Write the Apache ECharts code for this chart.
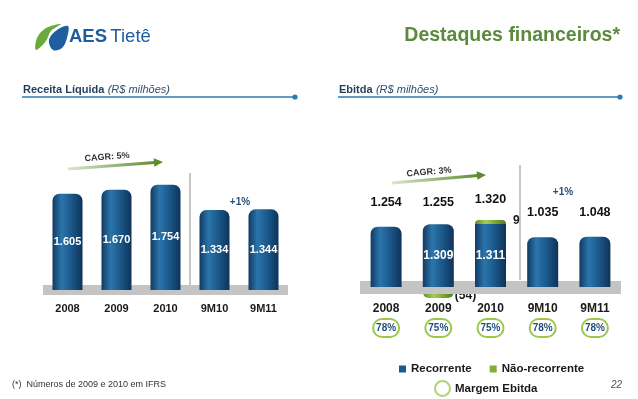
<!DOCTYPE html>
<html>
<head>
<meta charset="utf-8">
<script src="https://cdn.jsdelivr.net/npm/echarts@6/dist/echarts.min.js"></script>
<style>
  html, body { margin: 0; padding: 0; background: #fff; }
  #chart { width: 638px; height: 399px; }
</style>
</head>
<body>
<div id="chart"></div>
<script>
// Receita Líquida (R$ milhões)
const receitaCats = ['2008', '2009', '2010', '9M10', '9M11'];
const receitaValues = [1605, 1670, 1754, 1334, 1344];

// Ebitda (R$ milhões)
const ebitdaCats = ['2008', '2009', '2010', '9M10', '9M11'];
const ebitdaRecorrente = [1254, 1309, 1311, 1035, 1048];
const ebitdaNaoRecorrente = [null, -54, 9, null, null];
const ebitdaTotal = [1254, 1255, 1320, 1035, 1048];
const margemEbitda = ['78%', '75%', '75%', '78%', '78%'];

const FONT = "'Liberation Sans', Arial, sans-serif";

// formato pt-BR: 1605 -> 1.605
function fmt(v) {
  v = Math.abs(v);
  if (v < 1000) return String(v);
  return Math.floor(v / 1000) + '.' + String(v % 1000).padStart(3, '0');
}

const blueCyl = {
  type: 'linear', x: 0, y: 0, x2: 1, y2: 0,
  colorStops: [
    { offset: 0, color: '#113a62' },
    { offset: 0.3, color: '#2b75ab' },
    { offset: 0.6, color: '#1c5b8e' },
    { offset: 1, color: '#0e3358' }
  ]
};
const greenCyl = {
  type: 'linear', x: 0, y: 0, x2: 1, y2: 0,
  colorStops: [
    { offset: 0, color: '#5d8a25' },
    { offset: 0.35, color: '#a8cc55' },
    { offset: 1, color: '#4f7a1e' }
  ]
};

const naoRecPos = ebitdaNaoRecorrente.map(v => (v !== null && v > 0 ? v : null));
const naoRecNeg = ebitdaNaoRecorrente.map(v => (v !== null && v < 0 ? v : null));

const chart = echarts.init(document.getElementById('chart'));

const option = {
  animation: false,
  textStyle: { fontFamily: FONT },
  grid: [
    { left: 43, right: 350, top: 140, bottom: 109 },
    { left: 360, right: 17, top: 167, bottom: 112 }
  ],
  xAxis: [
    {
      type: 'category', gridIndex: 0, data: receitaCats, z: 1,
      axisLine: { lineStyle: { color: '#c4c4c4', width: 10, cap: 'butt' } },
      axisTick: { show: false },
      axisLabel: { color: '#1a1a1a', fontWeight: 'bold', fontSize: 11, margin: 13 }
    },
    {
      type: 'category', gridIndex: 1, data: ebitdaCats, z: 1,
      axisLine: { lineStyle: { color: '#c4c4c4', width: 13, cap: 'butt' } },
      axisTick: { show: false },
      axisLabel: { color: '#1a1a1a', fontWeight: 'bold', fontSize: 12, margin: 16 }
    },
    {
      type: 'category', gridIndex: 1, data: ebitdaCats, position: 'bottom',
      axisLine: { show: false, onZero: false },
      axisTick: { show: false },
      axisLabel: {
        margin: 32, interval: 0,
        formatter: (v, i) => '{m|' + margemEbitda[i] + '}',
        rich: {
          m: {
            color: '#1f4e7c', fontSize: 10, fontWeight: 'bold', fontFamily: FONT,
            borderColor: '#9cc84a', borderWidth: 2, borderRadius: 11,
            width: 26, height: 18, lineHeight: 18, align: 'center'
          }
        }
      }
    }
  ],
  yAxis: [
    { type: 'value', gridIndex: 0, min: 0, max: 2500, show: false },
    { type: 'value', gridIndex: 1, min: 0, max: 2500, show: false }
  ],
  legend: [
    {
      left: 394, top: 358, itemWidth: 7, itemHeight: 7, itemGap: 18,
      selectedMode: false,
      textStyle: { fontSize: 11.5, fontWeight: 'bold', color: '#1a1a1a', fontFamily: FONT },
      data: [
        { name: 'Recorrente', icon: 'rect', itemStyle: { color: '#1d5a8c' } },
        { name: 'Não-recorrente', icon: 'rect', itemStyle: { color: '#7fb13a' } }
      ]
    },
    {
      left: 429, top: 375, itemWidth: 15, itemHeight: 15,
      selectedMode: false,
      textStyle: { fontSize: 11.5, fontWeight: 'bold', color: '#1a1a1a', fontFamily: FONT },
      data: [
        { name: 'Margem Ebitda', icon: 'circle',
          itemStyle: { color: '#fff', borderColor: '#9cc84a', borderWidth: 2 } }
      ]
    }
  ],
  series: [
    {
      name: 'Receita Líquida', type: 'bar', xAxisIndex: 0, yAxisIndex: 0,
      data: receitaValues, barWidth: 30, z: 2,
      itemStyle: { color: blueCyl, borderRadius: [7, 7, 0, 0] },
      label: {
        show: true, position: 'inside', color: '#fff', fontWeight: 'bold',
        fontSize: 11, formatter: p => fmt(p.value)
      }
    },
    {
      name: 'Recorrente', type: 'bar', xAxisIndex: 1, yAxisIndex: 1, stack: 'ebitda',
      barWidth: 31, z: 2,
      itemStyle: { color: blueCyl, borderRadius: [7, 7, 0, 0] },
      data: ebitdaRecorrente.map((v, i) => ({
        value: v,
        label: { show: ebitdaNaoRecorrente[i] !== null },
        itemStyle: naoRecPos[i] !== null ? { borderRadius: 0 } : {}
      })),
      label: {
        position: 'inside', color: '#fff', fontWeight: 'bold', fontSize: 12,
        formatter: p => fmt(p.value)
      }
    },
    {
      name: 'Não-recorrente', type: 'bar', xAxisIndex: 1, yAxisIndex: 1, stack: 'ebitda',
      barWidth: 31, barMinHeight: 4, z: 2, data: naoRecPos,
      itemStyle: { color: greenCyl, borderRadius: [6, 6, 0, 0] },
      label: {
        show: true, position: 'right', distance: 7, offset: [0, -1],
        color: '#1a1a1a', fontWeight: 'bold', fontSize: 12,
        formatter: p => fmt(p.value)
      }
    },
    {
      name: 'Não-recorrente', type: 'bar', xAxisIndex: 1, yAxisIndex: 1, stack: 'ebitda',
      barWidth: 31, barMinHeight: 11, z: 0, clip: false, data: naoRecNeg,
      itemStyle: { color: greenCyl, borderRadius: [0, 0, 6, 6] },
      label: {
        show: true, position: 'right', distance: 1, offset: [0, 3],
        color: '#1a1a1a', fontWeight: 'bold', fontSize: 12,
        formatter: p => '(' + fmt(p.value) + ')'
      }
    },
    {
      name: 'Total', type: 'scatter', xAxisIndex: 1, yAxisIndex: 1,
      data: ebitdaTotal, symbolSize: 0, silent: true, z: 5,
      itemStyle: { color: '#1a1a1a', opacity: 1 },
      label: {
        show: true, position: 'top', distance: 18,
        color: '#111', fontWeight: 'bold', fontSize: 12.5,
        formatter: p => fmt(p.value)
      }
    },
    {
      name: 'Margem Ebitda', type: 'scatter', xAxisIndex: 1, yAxisIndex: 1, data: []
    }
  ],
  graphic: [
    // logo
    { type: 'polygon', shape: { points: [[36, 50], [37, 38], [46, 28], [61, 24], [51, 31], [46, 41]], smooth: 0.35 },
      style: { fill: '#6aaa3a' } },
    { type: 'polygon', shape: { points: [[68, 26], [57, 30], [49, 40], [53, 50], [62, 48], [67, 38]], smooth: 0.35 },
      style: { fill: '#1f5fa0' } },
    { type: 'text', x: 69, y: 37,
      style: { text: '{a|AES} {b|Tietê}', verticalAlign: 'middle',
        rich: {
          a: { fontSize: 18.5, fontWeight: 'bold', fill: '#1f5c9e', fontFamily: FONT },
          b: { fontSize: 18.5, fill: '#1f5c9e', fontFamily: FONT }
        } } },
    // titulo
    { type: 'text', x: 620, y: 36,
      style: { text: 'Destaques financeiros*', align: 'right', verticalAlign: 'middle',
        font: 'bold 19.5px ' + FONT, fill: '#5b8a3c' } },
    // cabeçalhos das seções
    { type: 'text', x: 23, y: 90,
      style: { text: '{b|Receita Líquida} {i|(R$ milhões)}', verticalAlign: 'middle',
        rich: {
          b: { fontSize: 11, fontWeight: 'bold', fill: '#1f3d5c', fontFamily: FONT },
          i: { fontSize: 11, fontStyle: 'italic', fill: '#2f4f6f', fontFamily: FONT }
        } } },
    { type: 'line', shape: { x1: 22, y1: 97, x2: 295, y2: 97 }, style: { stroke: '#2a7ab3', lineWidth: 1.5 } },
    { type: 'circle', shape: { cx: 295, cy: 97, r: 2.6 }, style: { fill: '#2a7ab3' } },
    { type: 'text', x: 339, y: 90,
      style: { text: '{b|Ebitda} {i|(R$ milhões)}', verticalAlign: 'middle',
        rich: {
          b: { fontSize: 11, fontWeight: 'bold', fill: '#1f3d5c', fontFamily: FONT },
          i: { fontSize: 11, fontStyle: 'italic', fill: '#2f4f6f', fontFamily: FONT }
        } } },
    { type: 'line', shape: { x1: 338, y1: 97, x2: 620, y2: 97 }, style: { stroke: '#2a7ab3', lineWidth: 1.5 } },
    { type: 'circle', shape: { cx: 620, cy: 97, r: 2.6 }, style: { fill: '#2a7ab3' } },
    // separadores
    { type: 'line', shape: { x1: 190, y1: 173, x2: 190, y2: 285 }, style: { stroke: '#c8c8c8', lineWidth: 2 } },
    { type: 'line', shape: { x1: 520, y1: 165, x2: 520, y2: 280 }, style: { stroke: '#c8c8c8', lineWidth: 2 } },
    // setas CAGR
    { type: 'line', shape: { x1: 68, y1: 169, x2: 155, y2: 162.6 },
      style: { lineWidth: 3, stroke: { type: 'linear', x: 0, y: 0, x2: 1, y2: 0,
        colorStops: [{ offset: 0, color: '#dfe9cf' }, { offset: 1, color: '#5c8a2c' }] } } },
    { type: 'polygon', shape: { points: [[163, 162], [154.3, 166.8], [153.7, 158.2]] }, style: { fill: '#5c8a2c' } },
    { type: 'text', x: 107, y: 157, rotation: 0.075,
      style: { text: 'CAGR: 5%', align: 'center', verticalAlign: 'middle', font: 'bold 9px ' + FONT, fill: '#333' } },
    { type: 'line', shape: { x1: 392, y1: 183, x2: 478, y2: 175.6 },
      style: { lineWidth: 3, stroke: { type: 'linear', x: 0, y: 0, x2: 1, y2: 0,
        colorStops: [{ offset: 0, color: '#dfe9cf' }, { offset: 1, color: '#5c8a2c' }] } } },
    { type: 'polygon', shape: { points: [[486, 175], [477.3, 179.8], [476.7, 171.2]] }, style: { fill: '#5c8a2c' } },
    { type: 'text', x: 429, y: 172, rotation: 0.085,
      style: { text: 'CAGR: 3%', align: 'center', verticalAlign: 'middle', font: 'bold 9px ' + FONT, fill: '#333' } },
    // variação
    { type: 'text', x: 240, y: 202,
      style: { text: '+1%', align: 'center', verticalAlign: 'middle', font: 'bold 10px ' + FONT, fill: '#2b4f7e' } },
    { type: 'text', x: 563, y: 192,
      style: { text: '+1%', align: 'center', verticalAlign: 'middle', font: 'bold 10px ' + FONT, fill: '#2b4f7e' } },
    // rodapé
    { type: 'text', x: 12, y: 385,
      style: { text: '(*)  Números de 2009 e 2010 em IFRS', verticalAlign: 'middle', font: '9px ' + FONT, fill: '#333' } },
    { type: 'text', x: 622, y: 385,
      style: { text: '22', align: 'right', verticalAlign: 'middle', font: 'italic 10px ' + FONT, fill: '#555' } }
  ]
};

chart.setOption(option);
</script>
</body>
</html>
